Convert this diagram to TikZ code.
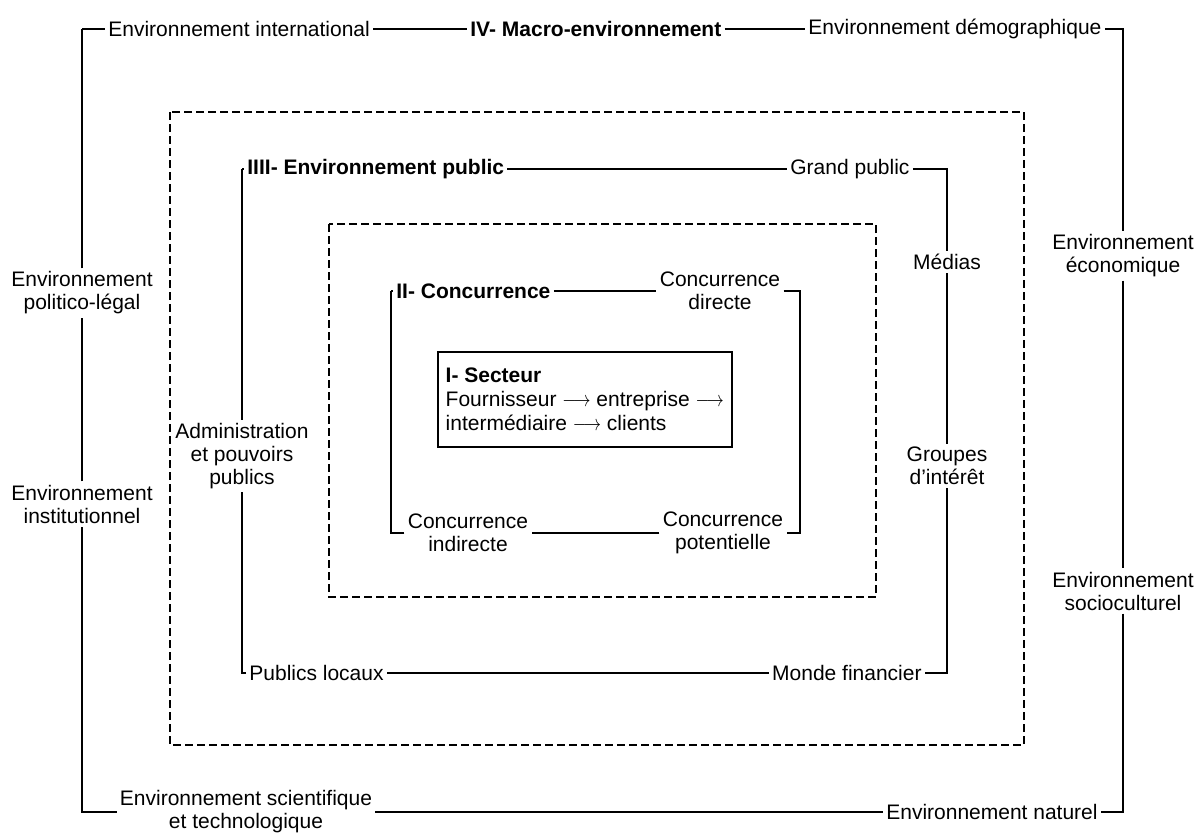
\documentclass[tikz,border=0pt]{standalone}
\usepackage{fontspec}
\setmainfont{Liberation Sans}
\usepackage{tikz}

\newcommand{\fleche}{\scalebox{0.8}[1]{$\longrightarrow$}}

\tikzset{
	envtext/.style={font=\fontsize{10.5}{11.5}\selectfont, align=center, inner sep=1.5pt},
	envhead/.style={envtext, font=\fontsize{10.5}{11.5}\selectfont\bfseries},
	ring/.style={line width=0.9pt},
	zone/.style={line width=0.8pt, dash pattern=on 4pt off 2pt},
	secbox/.style={draw, line width=0.8pt, minimum width=147pt, inner xsep=3pt,
		minimum height=47.5pt, align=left, font=\fontsize{10.5}{12}\selectfont}
}

\begin{document}
\begin{tikzpicture}[x=0.5pt, y=-0.5pt]
				\useasboundingbox (0,0) rectangle (1199,832);
				
				% IV- macro
				\coordinate (ivtl) at (82,29);
				\coordinate (ivtr) at (1123,29);
				\coordinate (ivbr) at (1123,812);
				\coordinate (ivbl) at (82,812);
				\node[envtext, anchor=west] (intl) at (105,29) {Environnement international};
				\node[envhead, anchor=west] (macro) at (467,29) {IV- Macro-environnement};
				\node[envtext, anchor=west] (demo) at (805,29) {Environnement démographique};
				\node[envtext] (econ) at (1123,256) {Environnement\\économique};
				\node[envtext] (socio) at (1123,591) {Environnement\\socioculturel};
				\node[envtext, anchor=east] (natur) at (1101,812) {Environnement naturel};
				\node[envtext] (scien) at (246,812) {Environnement scientifique\\et technologique};
				\node[envtext] (instit) at (82,504) {Environnement\\institutionnel};
				\node[envtext] (polit) at (82,293) {Environnement\\politico-légal};
				\draw[ring] (ivtl) -- (intl) -- (macro) -- (demo) -- (ivtr) -- (econ) -- (socio)
					-- (ivbr) -- (natur) -- (scien) -- (ivbl) -- (instit) -- (polit) -- (ivtl);
				
				\draw[zone] (170,112) rectangle (1024,745);
				
				% IIII- public
				\coordinate (iiitl) at (242,169);
				\coordinate (iiitr) at (947,169);
				\coordinate (iiibr) at (947,673);
				\coordinate (iiibl) at (242,673);
				\node[envhead, anchor=west] (pub) at (244,169) {IIII- Environnement public};
				\node[envtext, anchor=west] (grand) at (787,169) {Grand public};
				\node[envtext] (medias) at (947,262) {Médias};
				\node[envtext] (groupes) at (947,466) {Groupes\\d'intérêt};
				\node[envtext, anchor=east] (monde) at (925,673) {Monde financier};
				\node[envtext, anchor=west] (locaux) at (246,673) {Publics locaux};
				\node[envtext] (admin) at (242,456) {Administration\\et pouvoirs\\publics};
				\draw[ring] (iiitl) -- (pub) -- (grand) -- (iiitr) -- (medias) -- (groupes)
					-- (iiibr) -- (monde) -- (locaux) -- (iiibl) -- (admin) -- (iiitl);
				
				\draw[zone] (329,224) rectangle (876,597);
				
				% II- concurrence
				\coordinate (iitl) at (391,291);
				\coordinate (iitr) at (800,291);
				\coordinate (iibr) at (800,533);
				\coordinate (iibl) at (391,533);
				\node[envhead, anchor=west] (conc) at (393,291) {II- Concurrence};
				\node[envtext] (direct) at (720,291) {Concurrence\\directe};
				\node[envtext] (potent) at (723,533) {Concurrence\\potentielle};
				\node[envtext] (indir) at (468,533) {Concurrence\\indirecte};
				\draw[ring] (iitl) -- (conc) -- (direct) -- (iitr) -- (iibr) -- (potent)
					-- (indir) -- (iibl) -- (iitl);
				
				% I- secteur
				\node[secbox, anchor=north west] (sect) at (437,351)
					{\textbf{I- Secteur}\\Fournisseur \fleche{} entreprise \fleche\\intermédiaire \fleche{} clients};
				\end{tikzpicture}
\end{document}
